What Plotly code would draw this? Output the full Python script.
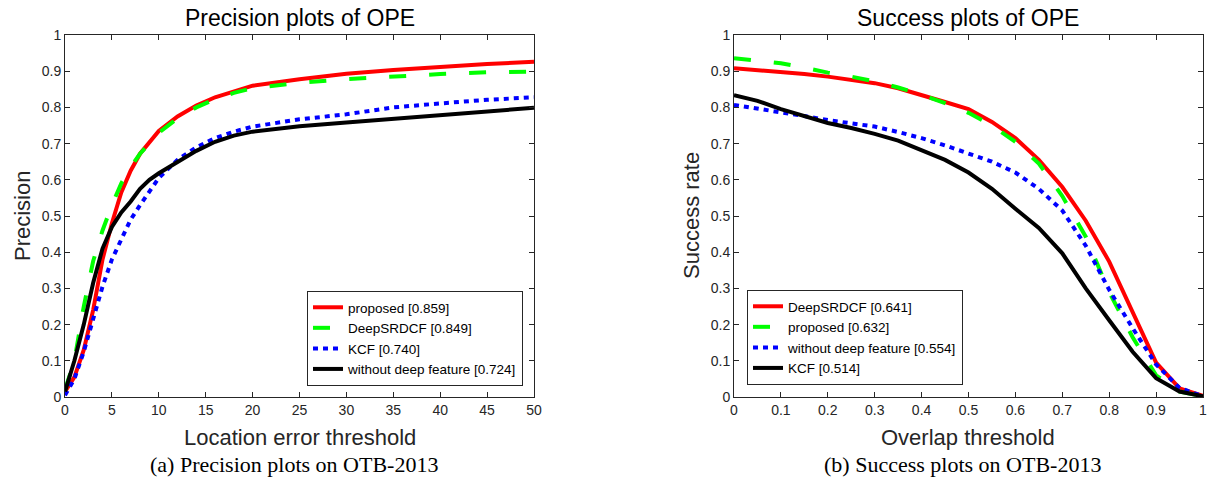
import plotly.graph_objects as go

# ---------------- data ----------------
prec_thresholds = [0, 1, 2, 3, 4, 5, 6, 7, 8, 9, 10, 12, 14, 16, 18, 20, 25, 30, 35, 40, 45, 50]
prec_proposed = [0.015, 0.055, 0.13, 0.24, 0.38, 0.48, 0.565, 0.625, 0.672, 0.705, 0.735, 0.775,
                 0.805, 0.828, 0.845, 0.86, 0.878, 0.893, 0.903, 0.912, 0.92, 0.926]
prec_deepsrdcf = [0.02, 0.1, 0.25, 0.375, 0.46, 0.53, 0.59, 0.635, 0.672, 0.703, 0.73, 0.77,
                  0.8, 0.823, 0.84, 0.853, 0.868, 0.878, 0.886, 0.892, 0.897, 0.899]
prec_kcf = [0.005, 0.05, 0.125, 0.215, 0.305, 0.38, 0.435, 0.49, 0.53, 0.57, 0.605, 0.655,
            0.69, 0.715, 0.733, 0.747, 0.767, 0.781, 0.8, 0.811, 0.821, 0.828]
prec_nodeep = [0.015, 0.1, 0.2, 0.315, 0.41, 0.47, 0.51, 0.54, 0.575, 0.6, 0.618, 0.65,
               0.68, 0.705, 0.722, 0.733, 0.748, 0.758, 0.768, 0.778, 0.788, 0.799]

succ_thresholds = [0, 0.05, 0.1, 0.15, 0.2, 0.25, 0.3, 0.35, 0.4, 0.45, 0.5,
                   0.55, 0.6, 0.65, 0.7, 0.75, 0.8, 0.85, 0.9, 0.95, 1.0]
succ_deepsrdcf = [0.908, 0.903, 0.899, 0.892, 0.885, 0.877, 0.867, 0.853, 0.835, 0.815, 0.795,
                  0.76, 0.715, 0.655, 0.58, 0.487, 0.374, 0.235, 0.095, 0.024, 0.003]
succ_proposed = [0.936, 0.93, 0.922, 0.91, 0.896, 0.885, 0.872, 0.855, 0.835, 0.812, 0.785,
                 0.75, 0.705, 0.645, 0.555, 0.443, 0.29, 0.165, 0.06, 0.015, 0.002]
succ_nodeep = [0.807, 0.797, 0.788, 0.776, 0.765, 0.756, 0.747, 0.732, 0.715, 0.695, 0.673,
               0.65, 0.62, 0.575, 0.515, 0.418, 0.296, 0.19, 0.09, 0.025, 0.002]
succ_kcf = [0.834, 0.818, 0.795, 0.775, 0.757, 0.743, 0.727, 0.708, 0.682, 0.655, 0.62,
            0.575, 0.52, 0.467, 0.397, 0.3, 0.212, 0.125, 0.052, 0.015, 0.002]

prec_ticks = [0, 5, 10, 15, 20, 25, 30, 35, 40, 45, 50]
succ_ticks = [0, 0.1, 0.2, 0.3, 0.4, 0.5, 0.6, 0.7, 0.8, 0.9, 1]
y_ticks = [0, 0.1, 0.2, 0.3, 0.4, 0.5, 0.6, 0.7, 0.8, 0.9, 1]

W, H = 1209, 481
AX = "#262626"
SANS = "Liberation Sans, Arial, sans-serif"
SERIF = "Liberation Serif, Times New Roman, serif"

RED = dict(color="#ff0000", width=4)
GREEN = dict(color="#00ff00", width=4, dash="17px,23px")
BLUE = dict(color="#0000ff", width=4, dash="5px,5px")
BLACK = dict(color="#000000", width=4)


def fmt(t):
    return "0" if t == 0 else ("1" if t == 1 else f"{t:.1f}")


fig = go.Figure()

# Left: precision
fig.add_trace(go.Scatter(x=prec_thresholds, y=prec_proposed, mode="lines", line=RED,
                         name="proposed [0.859]", xaxis="x", yaxis="y", legend="legend"))
fig.add_trace(go.Scatter(x=prec_thresholds, y=prec_deepsrdcf, mode="lines", line=GREEN,
                         name="DeepSRDCF [0.849]", xaxis="x", yaxis="y", legend="legend"))
fig.add_trace(go.Scatter(x=prec_thresholds, y=prec_kcf, mode="lines", line=BLUE,
                         name="KCF [0.740]", xaxis="x", yaxis="y", legend="legend"))
fig.add_trace(go.Scatter(x=prec_thresholds, y=prec_nodeep, mode="lines", line=BLACK,
                         name="without deep feature [0.724]", xaxis="x", yaxis="y", legend="legend"))

# Right: success
fig.add_trace(go.Scatter(x=succ_thresholds, y=succ_deepsrdcf, mode="lines", line=RED,
                         name="DeepSRDCF [0.641]", xaxis="x2", yaxis="y2", legend="legend2"))
fig.add_trace(go.Scatter(x=succ_thresholds, y=succ_proposed, mode="lines", line=GREEN,
                         name="proposed [0.632]", xaxis="x2", yaxis="y2", legend="legend2"))
fig.add_trace(go.Scatter(x=succ_thresholds, y=succ_nodeep, mode="lines", line=BLUE,
                         name="without deep feature [0.554]", xaxis="x2", yaxis="y2", legend="legend2"))
fig.add_trace(go.Scatter(x=succ_thresholds, y=succ_kcf, mode="lines", line=BLACK,
                         name="KCF [0.514]", xaxis="x2", yaxis="y2", legend="legend2"))

y0 = (H - 397) / H
y1 = (H - 35) / H
lx0, lx1 = 65 / W, 534 / W
rx0, rx1 = 734 / W, 1203 / W

axis_common = dict(showline=True, linecolor=AX, linewidth=1, mirror="ticks",
                   ticks="inside", ticklen=5, tickcolor=AX, tickwidth=1,
                   showgrid=False, zeroline=False, automargin=False,
                   tickfont=dict(family=SANS, size=14, color=AX))

LEGEND_FONT = dict(family=SANS, size=13.5, color="#000000")

fig.update_layout(
    width=W, height=H,
    margin=dict(l=0, r=0, t=0, b=0, pad=0, autoexpand=False),
    paper_bgcolor="white", plot_bgcolor="white",
    xaxis=dict(domain=[lx0, lx1], range=[0, 50], tickvals=prec_ticks,
               ticktext=[str(t) for t in prec_ticks], anchor="y", **axis_common),
    yaxis=dict(domain=[y0, y1], range=[0, 1], tickvals=y_ticks,
               ticktext=[fmt(t) for t in y_ticks], anchor="x", **axis_common),
    xaxis2=dict(domain=[rx0, rx1], range=[0, 1], tickvals=succ_ticks,
                ticktext=[fmt(t) for t in succ_ticks], anchor="y2", **axis_common),
    yaxis2=dict(domain=[y0, y1], range=[0, 1], tickvals=y_ticks,
                ticktext=[fmt(t) for t in y_ticks], anchor="x2", **axis_common),
    legend=dict(x=523 / W, y=(H - 386) / H, xanchor="right", yanchor="bottom",
                bgcolor="white", bordercolor=AX, borderwidth=1,
                font=LEGEND_FONT, tracegroupgap=0),
    legend2=dict(x=747 / W, y=(H - 385) / H, xanchor="left", yanchor="bottom",
                 bgcolor="white", bordercolor=AX, borderwidth=1,
                 font=LEGEND_FONT, tracegroupgap=0),
    showlegend=True,
)


def ann(text, x, y, size, family=SANS, angle=0, color="#000000"):
    fig.add_annotation(text=text, x=x / W, y=(H - y) / H, xref="paper", yref="paper",
                       showarrow=False, xanchor="center", yanchor="middle",
                       textangle=angle, font=dict(family=family, size=size, color=color))


ann("Precision plots of OPE", 300, 18, 23)
ann("Success plots of OPE", 968, 18, 23)
ann("Precision", 22, 216, 22, angle=-90, color=AX)
ann("Success rate", 691, 216, 22, angle=-90, color=AX)
ann("Location error threshold", 300, 438, 22, color=AX)
ann("Overlap threshold", 968, 438, 22, color=AX)
ann("(a) Precision plots on OTB-2013", 294, 464, 22, family=SERIF)
ann("(b) Success plots on OTB-2013", 962, 464, 22, family=SERIF)

fig.write_html("out.html", config={"displayModeBar": False},
               post_script="document.body.style.margin='0px';document.body.style.overflow='hidden';")
